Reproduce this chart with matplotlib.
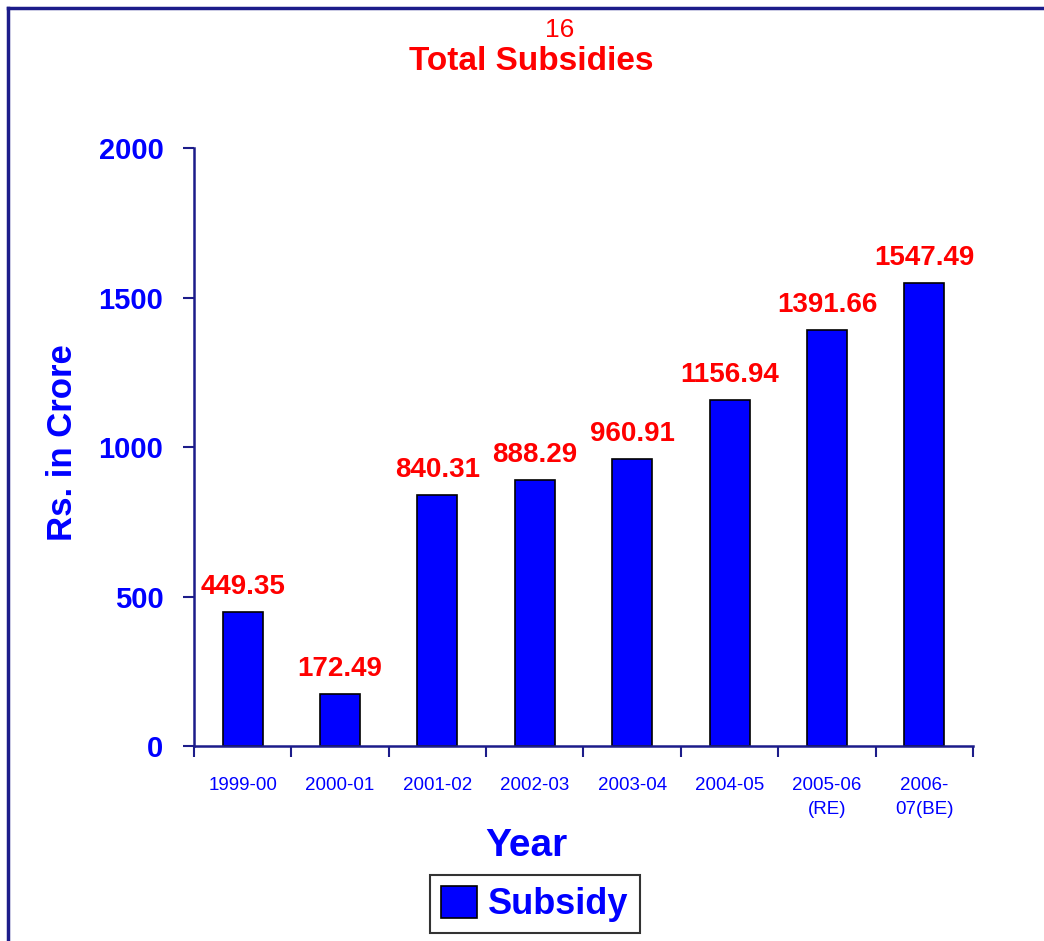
import matplotlib
matplotlib.use('Agg')
import matplotlib.pyplot as plt
from matplotlib.lines import Line2D

plt.rcParams['font.family'] = ['Liberation Sans', 'DejaVu Sans']

years = ['1999-00', '2000-01', '2001-02', '2002-03', '2003-04', '2004-05',
         '2005-06\n(RE)', '2006-\n07(BE)']
subsidy = [449.35, 172.49, 840.31, 888.29, 960.91, 1156.94, 1391.66, 1547.49]
yticks = [0, 500, 1000, 1500, 2000]

navy = '#1c1c8a'
blue = '#0000ff'
red = '#ff0000'

fig = plt.figure(figsize=(10.44, 9.41), dpi=100)
ax = fig.add_axes([0.1858, 0.2072, 0.932 - 0.1858, 0.8427 - 0.2072])

x = list(range(len(years)))
bars = ax.bar(x, subsidy, width=0.41, color=blue, edgecolor='black',
              linewidth=1.2, label='Subsidy')

for xi, v in zip(x, subsidy):
    ax.text(xi, v + 40, '%.2f' % v, ha='center', va='bottom', color=red,
            fontsize=20, fontweight='bold')

ax.set_xlim(-0.5, len(years) - 0.5)
ax.set_ylim(0, 2000)
ax.set_yticks(yticks)
ax.set_yticklabels([str(t) for t in yticks], color=blue, fontsize=21,
                   fontweight='bold')
ax.set_xticks([i + 0.5 for i in range(-1, len(years))], minor=False)
ax.set_xticklabels([])
ax.set_xticks(x, minor=True)
ax.set_xticklabels(years, minor=True, color=blue, fontsize=13.5,
                   linespacing=1.6, va='top')
ax.tick_params(axis='x', which='minor', length=0, pad=22)
ax.tick_params(axis='x', which='major', length=8, color=navy, width=1.5,
               direction='out')
ax.tick_params(axis='y', length=8, color=navy, width=1.5, direction='out',
               pad=14)

for s in ['top', 'right']:
    ax.spines[s].set_visible(False)
for s in ['left', 'bottom']:
    ax.spines[s].set_color(navy)
    ax.spines[s].set_linewidth(1.8)

ax.set_ylabel('Rs. in Crore', color=blue, fontsize=25, fontweight='bold')
ax.yaxis.set_label_coords(62 / 1044, 1 - 443 / 941, transform=fig.transFigure)
ax.set_xlabel('Year', color=blue, fontsize=28, fontweight='bold')
ax.xaxis.set_label_coords(526 / 1044, 1 - 846 / 941, transform=fig.transFigure)
ax.xaxis.label.set_va('center')
ax.yaxis.label.set_va('center')

fig.text(0.536, 0.968, '16', ha='center', va='center', color=red, fontsize=19)
fig.text(0.509, 0.935, 'Total Subsidies', ha='center', va='center',
         color=red, fontsize=24, fontweight='bold')

leg = ax.legend(loc='center', bbox_to_anchor=(535 / 1044, 1 - 904 / 941),
                bbox_transform=fig.transFigure, frameon=True, fancybox=False,
                handlelength=1.0, handleheight=1.0, handletextpad=0.3,
                borderpad=0.3, prop={'size': 26, 'weight': 'bold'})
leg.get_frame().set_edgecolor('black')
leg.get_frame().set_linewidth(1.5)
for t in leg.get_texts():
    t.set_color(blue)

# navy frame around the picture (left and top edges)
fig.add_artist(Line2D([8 / 1044, 8 / 1044], [0, 1 - 8 / 941],
                      transform=fig.transFigure, color=navy, linewidth=2.5))
fig.add_artist(Line2D([8 / 1044, 1], [1 - 8 / 941, 1 - 8 / 941],
                      transform=fig.transFigure, color=navy, linewidth=2.5))

fig.savefig('out.png', dpi=100)
